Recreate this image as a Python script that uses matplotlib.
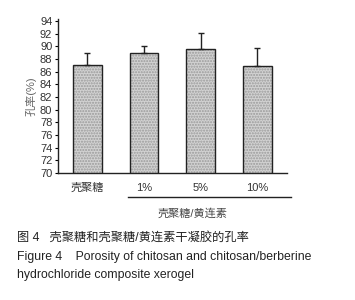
import matplotlib
matplotlib.use("Agg")
import matplotlib.pyplot as plt
import numpy as np

plt.rcParams['font.family'] = ['Liberation Sans', 'Noto Sans CJK SC']

# data
categories = ['壳聚糖', '1%', '5%', '10%']
porosity = [87.0, 89.0, 89.6, 86.9]
errors = [2.0, 1.1, 2.6, 2.9]
y_ticks = list(range(70, 95, 2))

fig = plt.figure(figsize=(3.55, 3.0), dpi=100)
ax = fig.add_axes([0.163, 0.423, 0.645, 0.515])

x = np.arange(len(categories))
# stippled fill, then a dark outline
ax.bar(x, porosity, width=0.51, color='#d2d2d2', edgecolor='#9a9a9a',
       linewidth=0, hatch='......', zorder=2)
ax.bar(x, porosity, width=0.51, fill=False, edgecolor='#222222',
       linewidth=1.0, zorder=3)
ax.errorbar(x, porosity, yerr=[np.zeros(len(errors)), errors], fmt='none',
            ecolor='#222222', elinewidth=1.0, capsize=2, capthick=1.0, zorder=3)

ax.set_xlim(-0.52, 3.52)
ax.set_ylim(70, 94.4)
ax.set_yticks(y_ticks)
ax.set_yticklabels([str(t) for t in y_ticks], fontsize=8, color='#333333')
ax.set_xticks(x)
ax.set_xticklabels(categories, fontsize=8, color='#333333')
ax.tick_params(axis='x', length=0, pad=7)
ax.tick_params(axis='y', length=2.5, width=0.8, pad=1.5)
for s in ['top', 'right']:
    ax.spines[s].set_visible(False)
for s in ['left', 'bottom']:
    ax.spines[s].set_linewidth(1.0)
    ax.spines[s].set_color('#222222')

ax.set_ylabel('孔率(%)', fontsize=8, color='#666666', labelpad=2)

# group line and label below the ticks
fig.add_artist(plt.Line2D([128 / 355, 291 / 355], [1 - 197 / 300, 1 - 197 / 300],
                          color='#222222', linewidth=1.0))
fig.text(193 / 355, 1 - 213 / 300, '壳聚糖/黄连素', fontsize=8, color='#444444',
         ha='center', va='center')

# caption
fig.text(17 / 355, 1 - 238 / 300, '图 4   壳聚糖和壳聚糖/黄连素干凝胶的孔率',
         fontsize=8.8, color='#222222', ha='left', va='center')
fig.text(17 / 355, 1 - 257 / 300, 'Figure 4    Porosity of chitosan and chitosan/berberine',
         fontsize=8.8, color='#222222', ha='left', va='center')
fig.text(17 / 355, 1 - 275 / 300, 'hydrochloride composite xerogel',
         fontsize=8.8, color='#222222', ha='left', va='center')

fig.savefig('out.png', dpi=100, facecolor='white')
